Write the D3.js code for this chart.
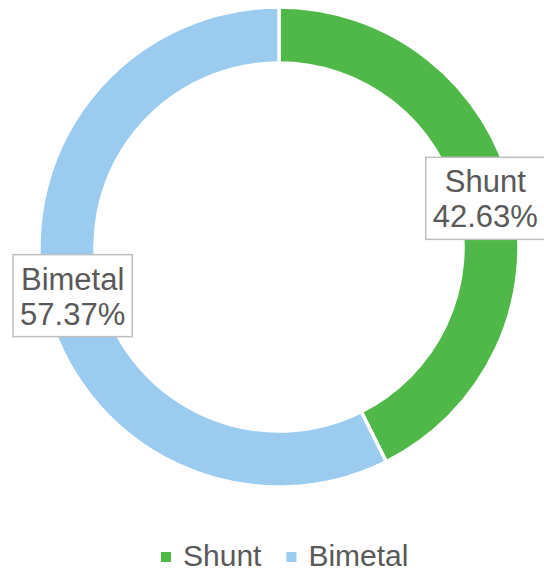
<!DOCTYPE html>
<html lang="en">
<head>
<meta charset="UTF-8">
<script src="https://d3js.org/d3.v7.min.js"></script>
<style>
  body { margin: 0; background: #fff; font-family: "Liberation Sans", Arial, sans-serif; }
  svg { display: block; }
</style>
</head>
<body>
<svg id="chart" width="544" height="571"></svg>
<script>
const categories = ["Shunt", "Bimetal"];
const shares = [42.63, 57.37];
const colors = ["#50b848", "#9bcbee"];

const data = categories.map((c, i) => ({ name: c, value: shares[i], color: colors[i] }));

const svg = d3.select("#chart");
const cx = 279, cy = 247;
const outerR = 240, innerR = 184;

const pie = d3.pie().sort(null).value(d => d.value);
const arc = d3.arc().innerRadius(innerR).outerRadius(outerR);
const labelArc = d3.arc().innerRadius((innerR + outerR) / 2).outerRadius((innerR + outerR) / 2);

const g = svg.append("g").attr("transform", `translate(${cx},${cy})`);

const arcs = pie(data);

g.selectAll("path")
  .data(arcs)
  .enter().append("path")
  .attr("d", arc)
  .attr("fill", d => d.data.color)
  .attr("stroke", "#fff")
  .attr("stroke-width", 3.5);

// data labels with boxes
const labels = g.selectAll(".lbl")
  .data(arcs)
  .enter().append("g")
  .attr("class", "lbl")
  .attr("transform", d => `translate(${labelArc.centroid(d)})`);

labels.each(function(d) {
  const lg = d3.select(this);
  const rect = lg.append("rect");
  const t = lg.append("text")
    .attr("text-anchor", "middle")
    .style("font-size", "31px")
    .style("fill", "#595959");
  t.append("tspan").attr("x", 0).attr("y", -6).text(d.data.name);
  t.append("tspan").attr("x", 0).attr("y", 29).text(d.data.value.toFixed(2) + "%");
  const bb = t.node().getBBox();
  const w = bb.width + 14, h = 82;
  rect.attr("x", -w / 2).attr("y", -h / 2)
    .attr("width", w).attr("height", h)
    .attr("fill", "#fff")
    .attr("stroke", "#bfbfbf")
    .attr("stroke-width", 1.5);
});

// legend
const legend = svg.append("g").attr("transform", "translate(0,566)");
let lx = 161;
data.forEach(d => {
  legend.append("rect")
    .attr("x", lx).attr("y", -14)
    .attr("width", 10).attr("height", 10)
    .attr("fill", d.color);
  const txt = legend.append("text")
    .attr("x", lx + 22).attr("y", 0)
    .style("font-size", "30px")
    .style("fill", "#595959")
    .text(d.name);
  lx += 22 + txt.node().getComputedTextLength() + 25;
});
</script>
</body>
</html>
